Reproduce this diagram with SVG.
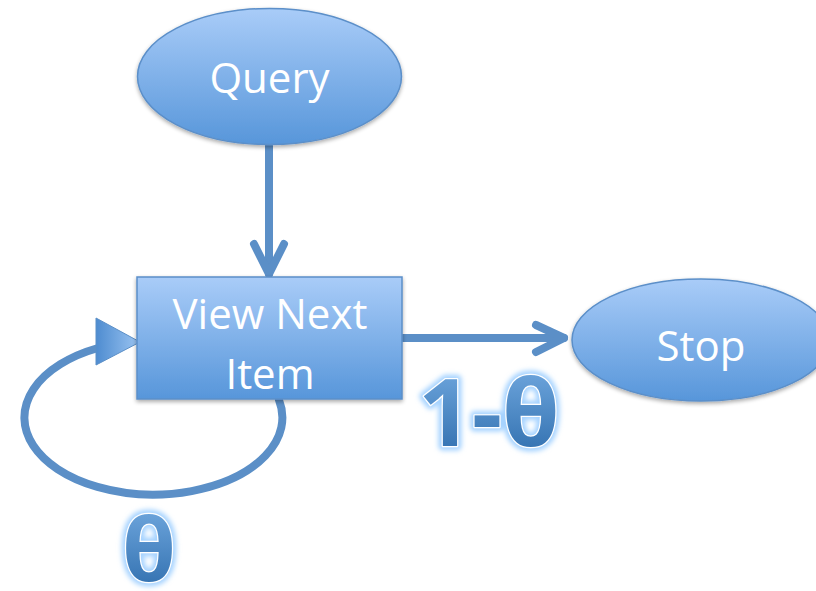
<svg xmlns="http://www.w3.org/2000/svg" width="816" height="591" viewBox="0 0 816 591">
<defs>
<linearGradient id="nodeFill" x1="0" y1="0" x2="0" y2="1">
<stop offset="0" stop-color="#a9ccf8"/>
<stop offset="1" stop-color="#5796da"/>
</linearGradient>
<linearGradient id="triFill" x1="0" y1="0" x2="1" y2="0">
<stop offset="0" stop-color="#4e8cd0"/>
<stop offset="1" stop-color="#9cc5f2"/>
</linearGradient>
<linearGradient id="labelFill" x1="0" y1="0" x2="0" y2="1">
<stop offset="0" stop-color="#7db3e8"/>
<stop offset="1" stop-color="#2565a6"/>
</linearGradient>
<filter id="shadow" x="-10%" y="-10%" width="120%" height="130%">
<feGaussianBlur in="SourceAlpha" stdDeviation="2"/>
<feOffset dx="0" dy="2" result="b"/>
<feComponentTransfer><feFuncA type="linear" slope="0.35"/></feComponentTransfer>
<feMerge><feMergeNode/><feMergeNode in="SourceGraphic"/></feMerge>
</filter>
<filter id="glow" x="-20%" y="-20%" width="140%" height="140%">
<feGaussianBlur stdDeviation="2.5"/>
</filter>
</defs>
<style>
.node{fill:url(#nodeFill);stroke:#5b8fc9;stroke-width:1.5;filter:url(#shadow)}
.ntext{font-family:"Open Sans","Noto Sans",sans-serif;font-size:42px;fill:#ffffff;text-anchor:middle}
.conn{fill:none;stroke:#5b8fc7;stroke-width:8;stroke-linecap:round;stroke-linejoin:round}
.lbl{font-family:"Noto Sans","Open Sans",sans-serif;font-weight:bold;text-anchor:middle}
.lglow{fill:#a6d3ff;stroke:#a6d3ff;stroke-width:9;stroke-linejoin:round;filter:url(#glow)}
.lmain{fill:url(#labelFill);stroke:#ffffff;stroke-width:2.5;stroke-linejoin:round;paint-order:stroke}
</style>
<g id="connectors">
<path class="conn" d="M269 146 L269 274"/>
<path class="conn" d="M254 244 L269 274 L284 244"/>
<path class="conn" d="M403 338 L564 338"/>
<path class="conn" d="M536 325 L564 338 L536 352"/>
<path class="conn" d="M279 400 A129 77 0 1 1 98 348"/>
<polygon points="96,318 96,365 140,342" fill="url(#triFill)" stroke="#5b8fc7" stroke-width="1"/>
</g>
<g id="query">
<ellipse class="node" cx="269.5" cy="76.5" rx="132" ry="68"/>
<text class="ntext" x="269.5" y="93">Query</text>
</g>
<g id="view-next-item">
<rect class="node" x="137" y="277" width="265" height="122"/>
<text class="ntext" x="270" y="329">View Next</text>
<text class="ntext" x="270" y="389">Item</text>
</g>
<g id="stop">
<ellipse class="node" cx="701" cy="340" rx="129" ry="61"/>
<text class="ntext" x="701" y="361">Stop</text>
</g>
<g id="label-1-theta">
<text class="lbl lglow" x="489" y="446" font-size="94">1-θ</text>
<text class="lbl lmain" x="489" y="446" font-size="94">1-θ</text>
</g>
<g id="label-theta">
<text class="lbl lglow" x="149" y="581" font-size="88">θ</text>
<text class="lbl lmain" x="149" y="581" font-size="88">θ</text>
</g>
</svg>
